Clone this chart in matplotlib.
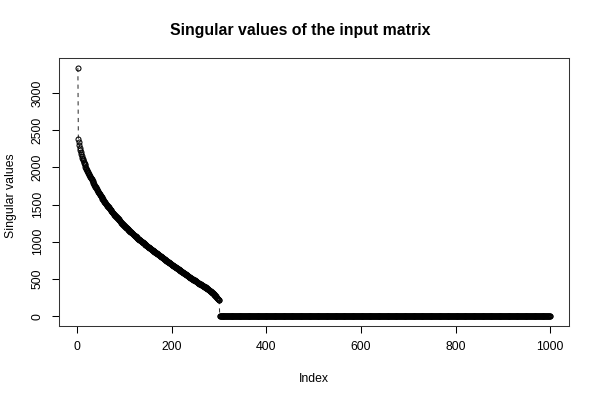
import matplotlib
matplotlib.use("Agg")
import matplotlib.pyplot as plt
import numpy as np

plt.rcParams['font.family'] = ['Liberation Sans', 'DejaVu Sans']

# Singular values (indices 1..300 nonzero, 301..1000 zero)
sv_nonzero = [
    3340, 2380,
    2340, 2300, 2265, 2235, 2205, 2180, 2155, 2130,
    2112, 2095, 2078, 2061, 2044, 2027, 2010, 1993, 1976, 1960,
    1948, 1936, 1924, 1912, 1900, 1888, 1876, 1864, 1852, 1840,
    1828, 1816, 1804, 1792, 1780, 1768, 1756, 1744, 1732, 1720, 1708, 1696, 1684, 1672, 1660,
    1650, 1640, 1630, 1620, 1610, 1600, 1590, 1580, 1570, 1560, 1550, 1540, 1530, 1520, 1510,
    1502, 1494, 1486, 1478, 1470, 1462, 1454, 1446, 1438, 1430,
    1422, 1414, 1406, 1398, 1390, 1382, 1374, 1366, 1358, 1350,
    1343, 1336, 1329, 1322, 1315, 1308, 1301, 1294, 1287, 1280,
    1273, 1266, 1259, 1252, 1245, 1238, 1231, 1224, 1217, 1210,
    1204, 1198, 1192, 1186, 1180, 1174, 1168, 1162, 1156, 1150, 1144, 1138, 1132,
    1126, 1120, 1114, 1108, 1102, 1096, 1090, 1084, 1078, 1072, 1066, 1060,
    1055, 1050, 1044, 1039, 1034, 1029, 1024, 1018, 1013, 1008, 1003, 998, 992,
    987, 982, 977, 972, 966, 961, 956, 951, 946, 940, 935, 930,
    925, 920, 916, 911, 906, 901, 896, 892, 887, 882, 877, 872, 868,
    863, 858, 853, 848, 844, 839, 834, 829, 824, 820, 815, 810,
    805, 800, 796, 791, 786, 781, 776, 772, 767, 762, 757, 752, 748,
    743, 738, 733, 728, 724, 719, 714, 709, 704, 700, 695, 690,
    686, 681, 677, 672, 668, 664, 659, 655, 650, 646, 642, 637, 633,
    628, 624, 620, 615, 611, 606, 602, 598, 593, 589, 584, 580,
    576, 571, 567, 562, 558, 554, 549, 545, 540, 536, 532, 527, 523,
    518, 514, 510, 505, 501, 496, 492, 488, 483, 479, 474, 470,
    466, 462, 458, 454, 450, 446, 442, 438, 434, 430, 426, 422, 418,
    414, 410, 406, 402, 398, 394, 390, 386, 382, 378, 374, 370,
    365, 359, 354, 349, 343, 338, 333, 327, 322, 317, 311, 306, 301, 295, 290,
    282, 274, 266, 258, 250, 242, 234, 226, 218, 210,
]
sv_zero = [0.0] * 700
singular_values = sv_nonzero + sv_zero
index = list(range(1, len(singular_values) + 1))

x_ticks = [0, 200, 400, 600, 800, 1000]
y_ticks = [0, 500, 1000, 1500, 2000, 2500, 3000]

fig = plt.figure(figsize=(6, 4), dpi=100)
ax = fig.add_axes([59/600, 74/400, 510/600, 268/400])

ax.plot(index, singular_values, color='#333333', lw=0.75, linestyle=(0, (4, 4)),
        marker='o', markersize=3.6, markerfacecolor='none',
        markeredgecolor='black', markeredgewidth=0.75)

xr = max(index) - min(index)
ax.set_xlim(min(index) - 0.04 * xr, max(index) + 0.04 * xr)
yr = max(singular_values) - min(singular_values)
ax.set_ylim(min(singular_values) - 0.04 * yr, max(singular_values) + 0.04 * yr)

ax.set_xticks(x_ticks)
ax.set_yticks(y_ticks)
ax.set_yticklabels([str(v) for v in y_ticks], rotation=90, va='center')
ax.tick_params(axis='both', direction='out', length=5, width=0.75,
               labelsize=8.8, pad=6, colors='black')
for s in ax.spines.values():
    s.set_linewidth(0.75)
    s.set_color('#333333')

fig.text(0.5, 1 - 31/400, 'Singular values of the input matrix', ha='center', va='center',
         fontsize=11.4, fontweight='bold')
fig.text(314/600, 1 - 379/400, 'Index', ha='center', va='center', fontsize=8.8)
fig.text(11/600, 1 - 196/400, 'Singular values', ha='center', va='center', fontsize=8.8,
         rotation=90)

fig.savefig('out.png', dpi=100)
